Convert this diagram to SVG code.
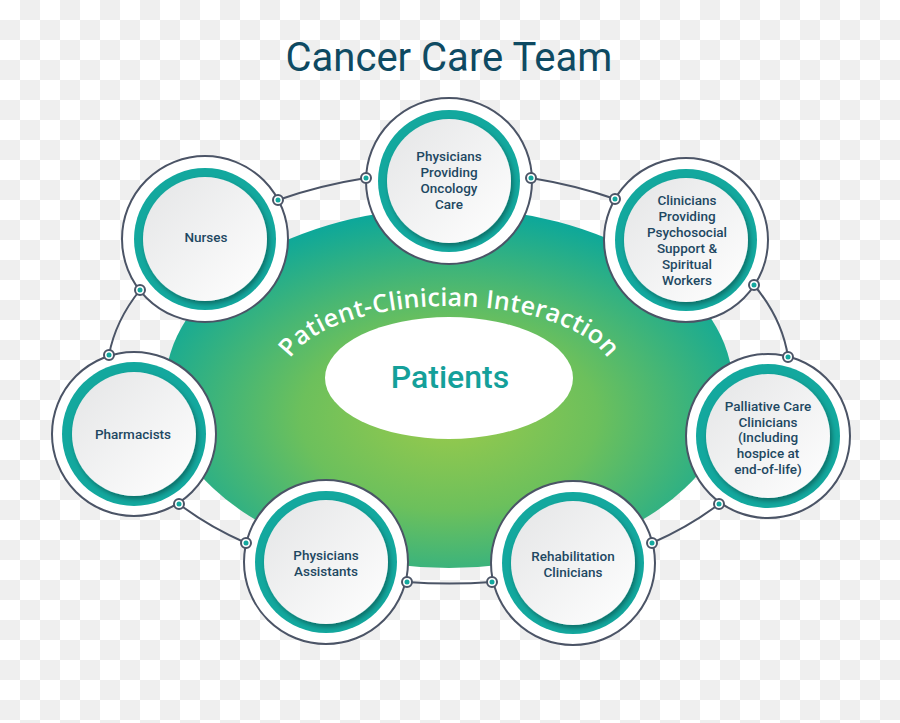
<svg xmlns="http://www.w3.org/2000/svg" width="900" height="723" viewBox="0 0 900 723">
<defs>
  <pattern id="checker" width="40" height="40" patternUnits="userSpaceOnUse">
    <rect width="40" height="40" fill="#ffffff"/>
    <rect x="20" y="0" width="20" height="20" fill="#efefef"/>
    <rect x="0" y="20" width="20" height="20" fill="#efefef"/>
  </pattern>
  <radialGradient id="bigGrad" cx="50%" cy="58%" r="58%">
    <stop offset="0%" stop-color="#9aca4b"/>
    <stop offset="45%" stop-color="#6cc05c"/>
    <stop offset="100%" stop-color="#0ba79b"/>
  </radialGradient>
  <linearGradient id="innerGrad" x1="0" y1="0" x2="1" y2="1">
    <stop offset="0%" stop-color="#e4e5e6"/>
    <stop offset="100%" stop-color="#ffffff"/>
  </linearGradient>
  <filter id="shadow" x="-20%" y="-20%" width="150%" height="150%">
    <feDropShadow dx="2" dy="3" stdDeviation="2.5" flood-color="#000000" flood-opacity="0.35"/>
  </filter>
  <path id="arcPath" d="M 284 378 A 165 72 0 0 1 614 378"/>
</defs>
<style>
  .outer { fill: #ffffff; stroke: #4b5466; stroke-width: 2; }
  .teal { fill: #13a89e; }
  .inner { fill: url(#innerGrad); filter: url(#shadow); }
  .lbl { font-family: Roboto, "Liberation Sans", sans-serif; font-weight: 500; font-size: 13.5px; fill: #1e4862; text-anchor: middle; }
  .conn { fill: none; stroke: #4b5466; stroke-width: 2; }
  .dot { fill: #ffffff; stroke: #4b5466; stroke-width: 2; }
  .dotc { fill: #13a89e; }
</style>
<rect width="900" height="723" fill="url(#checker)"/>

<text x="449" y="71" font-family="Roboto, 'Liberation Sans', sans-serif" font-size="40" fill="#0e4a62" text-anchor="middle">Cancer Care Team</text>

<g id="center">
  <ellipse cx="449" cy="388" rx="284" ry="180" fill="url(#bigGrad)"/>
  <text font-family="'Open Sans', 'Liberation Sans', sans-serif" font-size="25" font-weight="600" fill="#ffffff">
    <textPath href="#arcPath" startOffset="50%" text-anchor="middle" textLength="345" lengthAdjust="spacing">Patient-Clinician Interaction</textPath>
  </text>
  <ellipse cx="449" cy="378" rx="124" ry="61" fill="#ffffff"/>
  <text x="450" y="388" font-family="Roboto, 'Liberation Sans', sans-serif" font-size="32" font-weight="500" fill="#14a09a" text-anchor="middle">Patients</text>
</g>

<g id="connectors">
  <path class="conn" d="M 278 200 A 342 203 0 0 1 366 178"/>
  <path class="conn" d="M 531 178 A 342 203 0 0 1 615 199"/>
  <path class="conn" d="M 754 285 A 342 203 0 0 1 788 357"/>
  <path class="conn" d="M 719 504 A 342 203 0 0 1 652 543"/>
  <path class="conn" d="M 492 582 A 342 203 0 0 1 407 582"/>
  <path class="conn" d="M 246 543 A 342 203 0 0 1 179 504"/>
  <path class="conn" d="M 109 355 A 342 203 0 0 1 140 290"/>
</g>

<g id="node-oncology">
  <circle class="outer" cx="449" cy="181" r="83"/>
  <circle class="teal" cx="449" cy="181" r="71"/>
  <circle class="inner" cx="449" cy="181" r="62"/>
  <text class="lbl" x="449" y="161">Physicians</text>
  <text class="lbl" x="449" y="177">Providing</text>
  <text class="lbl" x="449" y="193">Oncology</text>
  <text class="lbl" x="449" y="209">Care</text>
</g>

<g id="node-nurses">
  <circle class="outer" cx="205" cy="239" r="83"/>
  <circle class="teal" cx="205" cy="239" r="71"/>
  <circle class="inner" cx="205" cy="239" r="62"/>
  <text class="lbl" x="206" y="242">Nurses</text>
</g>

<g id="node-psychosocial">
  <circle class="outer" cx="686" cy="240" r="82"/>
  <circle class="teal" cx="686" cy="240" r="71"/>
  <circle class="inner" cx="686" cy="240" r="62"/>
  <text class="lbl" x="687" y="205">Clinicians</text>
  <text class="lbl" x="687" y="221">Providing</text>
  <text class="lbl" x="687" y="237">Psychosocial</text>
  <text class="lbl" x="687" y="253">Support &amp;</text>
  <text class="lbl" x="687" y="269">Spiritual</text>
  <text class="lbl" x="687" y="285">Workers</text>
</g>

<g id="node-pharmacists">
  <circle class="outer" cx="134" cy="434" r="82"/>
  <circle class="teal" cx="134" cy="434" r="72"/>
  <circle class="inner" cx="134" cy="434" r="62"/>
  <text class="lbl" x="133" y="439">Pharmacists</text>
</g>

<g id="node-palliative">
  <circle class="outer" cx="768" cy="436" r="82"/>
  <circle class="teal" cx="768" cy="436" r="72"/>
  <circle class="inner" cx="768" cy="436" r="62"/>
  <text class="lbl" x="768" y="411">Palliative Care</text>
  <text class="lbl" x="768" y="427">Clinicians</text>
  <text class="lbl" x="768" y="442">(Including</text>
  <text class="lbl" x="768" y="458">hospice at</text>
  <text class="lbl" x="768" y="474">end-of-life)</text>
</g>

<g id="node-assistants">
  <circle class="outer" cx="326" cy="562" r="82"/>
  <circle class="teal" cx="326" cy="562" r="71"/>
  <circle class="inner" cx="326" cy="562" r="62"/>
  <text class="lbl" x="326" y="560">Physicians</text>
  <text class="lbl" x="326" y="576">Assistants</text>
</g>

<g id="node-rehab">
  <circle class="outer" cx="573" cy="563" r="82"/>
  <circle class="teal" cx="573" cy="563" r="71"/>
  <circle class="inner" cx="573" cy="563" r="62"/>
  <text class="lbl" x="573" y="561">Rehabilitation</text>
  <text class="lbl" x="573" y="577">Clinicians</text>
</g>

<g id="dots">
  <circle class="dot" cx="278" cy="200" r="5"/><circle class="dotc" cx="278" cy="200" r="2.5"/>
  <circle class="dot" cx="366" cy="178" r="5"/><circle class="dotc" cx="366" cy="178" r="2.5"/>
  <circle class="dot" cx="531" cy="178" r="5"/><circle class="dotc" cx="531" cy="178" r="2.5"/>
  <circle class="dot" cx="615" cy="199" r="5"/><circle class="dotc" cx="615" cy="199" r="2.5"/>
  <circle class="dot" cx="754" cy="285" r="5"/><circle class="dotc" cx="754" cy="285" r="2.5"/>
  <circle class="dot" cx="788" cy="357" r="5"/><circle class="dotc" cx="788" cy="357" r="2.5"/>
  <circle class="dot" cx="719" cy="504" r="5"/><circle class="dotc" cx="719" cy="504" r="2.5"/>
  <circle class="dot" cx="652" cy="543" r="5"/><circle class="dotc" cx="652" cy="543" r="2.5"/>
  <circle class="dot" cx="492" cy="582" r="5"/><circle class="dotc" cx="492" cy="582" r="2.5"/>
  <circle class="dot" cx="407" cy="582" r="5"/><circle class="dotc" cx="407" cy="582" r="2.5"/>
  <circle class="dot" cx="246" cy="543" r="5"/><circle class="dotc" cx="246" cy="543" r="2.5"/>
  <circle class="dot" cx="179" cy="504" r="5"/><circle class="dotc" cx="179" cy="504" r="2.5"/>
  <circle class="dot" cx="109" cy="355" r="5"/><circle class="dotc" cx="109" cy="355" r="2.5"/>
  <circle class="dot" cx="140" cy="290" r="5"/><circle class="dotc" cx="140" cy="290" r="2.5"/>
</g>
</svg>
